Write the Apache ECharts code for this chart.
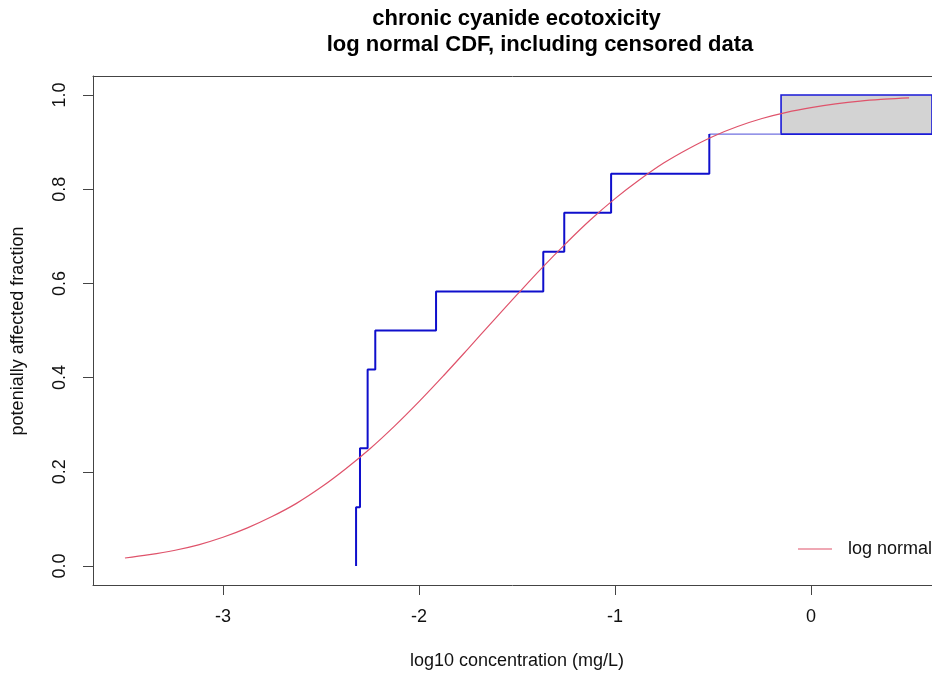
<!DOCTYPE html>
<html>
<head>
<meta charset="utf-8">
<script src="https://cdn.jsdelivr.net/npm/echarts@6/dist/echarts.min.js"></script>
<style>
html,body{margin:0;padding:0;background:#fff;}
#chart{width:932px;height:673px;}
</style>
</head>
<body>
<div id="chart"></div>
<script>
// ---- data ----
var xTicks = [-3, -2, -1, 0];
var yTicks = [0, 0.2, 0.4, 0.6, 0.8, 1.0];
// empirical step function (log10 concentration, cumulative fraction)
var stepX = [-2.321, -2.301, -2.262, -2.223, -1.913, -1.366, -1.259, -1.020, -0.519];
var stepY = [0.125, 0.25, 0.417, 0.5, 0.583, 0.667, 0.75, 0.833, 0.917];
// censored observation (greater-than value)
var censorX = -0.153;
var censorLow = 0.917;
var censorHigh = 1.0;
// fitted log normal CDF
var curveX = [-3.5, -3.375, -3.25, -3.125, -3.0, -2.875, -2.75, -2.625, -2.5, -2.375, -2.25, -2.125, -2.0, -1.875, -1.75, -1.625,
              -1.5, -1.375, -1.25, -1.125, -1.0, -0.875, -0.75, -0.625, -0.5, -0.375, -0.25, -0.125, 0.0, 0.125, 0.25, 0.375, 0.5];
var curveY = [0.017, 0.024, 0.033, 0.045, 0.061, 0.081, 0.105, 0.133, 0.167, 0.206, 0.249, 0.297, 0.349, 0.404, 0.461, 0.519,
              0.576, 0.632, 0.685, 0.735, 0.780, 0.820, 0.856, 0.886, 0.912, 0.933, 0.950, 0.963, 0.973, 0.981, 0.987, 0.991, 0.994];

var titleLine1 = 'chronic cyanide ecotoxicity';
var titleLine2 = 'log normal CDF, including censored data';
var xName = 'log10 concentration (mg/L)';
var yName = 'potenially affected fraction';
var legendName = 'log normal';

// ---- build series data ----
var stepData = [[stepX[0], 0]];
for (var i = 0; i < stepX.length; i++) stepData.push([stepX[i], stepY[i]]);
var curveData = curveX.map(function (x, i) { return [x, curveY[i]]; });
var lastX = stepX[stepX.length - 1];

var xMin = -3.663, xMax = 0.617;
var yMin = -0.0403, yMax = 1.0403;
var font = '"Liberation Sans", Arial, Helvetica, sans-serif';
var boxColor = '#444';

var chart = echarts.init(document.getElementById('chart'));
chart.setOption({
  animation: false,
  backgroundColor: '#ffffff',
  grid: { left: 93, top: 76, right: 0, bottom: 88, show: false },
  xAxis: [{
    type: 'value', min: xMin, max: xMax, position: 'bottom',
    splitLine: { show: false },
    axisLine: { show: true, onZero: false, lineStyle: { color: boxColor, width: 1 } },
    axisTick: { show: true, length: 10, lineStyle: { color: '#444' }, customValues: xTicks },
    axisLabel: {
      customValues: xTicks, margin: 23, color: '#111', fontSize: 18, fontFamily: font,
      formatter: function (v) { return String(Math.round(v)); }
    }
  }, {
    type: 'value', min: xMin, max: xMax, position: 'top',
    splitLine: { show: false },
    axisLine: { show: true, onZero: false, lineStyle: { color: boxColor, width: 1 } },
    axisTick: { show: false }, axisLabel: { show: false }
  }],
  yAxis: {
    type: 'value', min: yMin, max: yMax,
    splitLine: { show: false },
    axisLine: { show: true, onZero: false, lineStyle: { color: boxColor, width: 1 } },
    axisTick: { show: true, length: 10, lineStyle: { color: '#444' }, customValues: yTicks },
    axisLabel: {
      customValues: yTicks, margin: 24, rotate: 90, color: '#111', fontSize: 18, fontFamily: font,
      formatter: function (v) { return v.toFixed(1); }
    }
  },
  series: [
    {
      name: 'censored', type: 'line', data: [[lastX, censorLow], [censorX, censorLow]],
      showSymbol: false, symbol: 'none', silent: true,
      lineStyle: { color: '#7070e0', width: 1.2 },
      markArea: {
        silent: true,
        itemStyle: { color: '#d3d3d3', borderColor: '#1a1ad8', borderWidth: 1.6 },
        data: [[{ xAxis: censorX, yAxis: censorLow }, { xAxis: 0.75, yAxis: censorHigh }]]
      },
      z: 2
    },
    {
      name: 'empirical', type: 'line', data: stepData, step: 'end',
      showSymbol: false, symbol: 'none', silent: true,
      lineStyle: { color: '#0f0fcc', width: 2 },
      z: 3
    },
    {
      name: legendName, type: 'line', data: curveData, smooth: 0.4,
      showSymbol: false, symbol: 'none', silent: true,
      lineStyle: { color: '#DF536B', width: 1.2 },
      itemStyle: { color: '#DF536B' },
      z: 4
    }
  ],
  graphic: [
    { type: 'text', x: 516.5, y: 19, style: { text: titleLine1, font: 'bold 22px ' + font, fill: '#000', textAlign: 'center', textVerticalAlign: 'middle' } },
    { type: 'text', x: 540, y: 45, style: { text: titleLine2, font: 'bold 22px ' + font, fill: '#000', textAlign: 'center', textVerticalAlign: 'middle' } },
    { type: 'text', x: 517, y: 661, style: { text: xName, font: '18px ' + font, fill: '#111', textAlign: 'center', textVerticalAlign: 'middle' } },
    { type: 'text', x: 18, y: 331, rotation: Math.PI / 2, style: { text: yName, font: '18px ' + font, fill: '#111', textAlign: 'center', textVerticalAlign: 'middle' } },
    { type: 'line', shape: { x1: 798, y1: 549, x2: 832, y2: 549 }, style: { stroke: '#DF536B', lineWidth: 1.2 } },
    { type: 'text', x: 848, y: 549, style: { text: legendName, font: '18px ' + font, fill: '#111', textAlign: 'left', textVerticalAlign: 'middle' } }
  ]
});
</script>
</body>
</html>
